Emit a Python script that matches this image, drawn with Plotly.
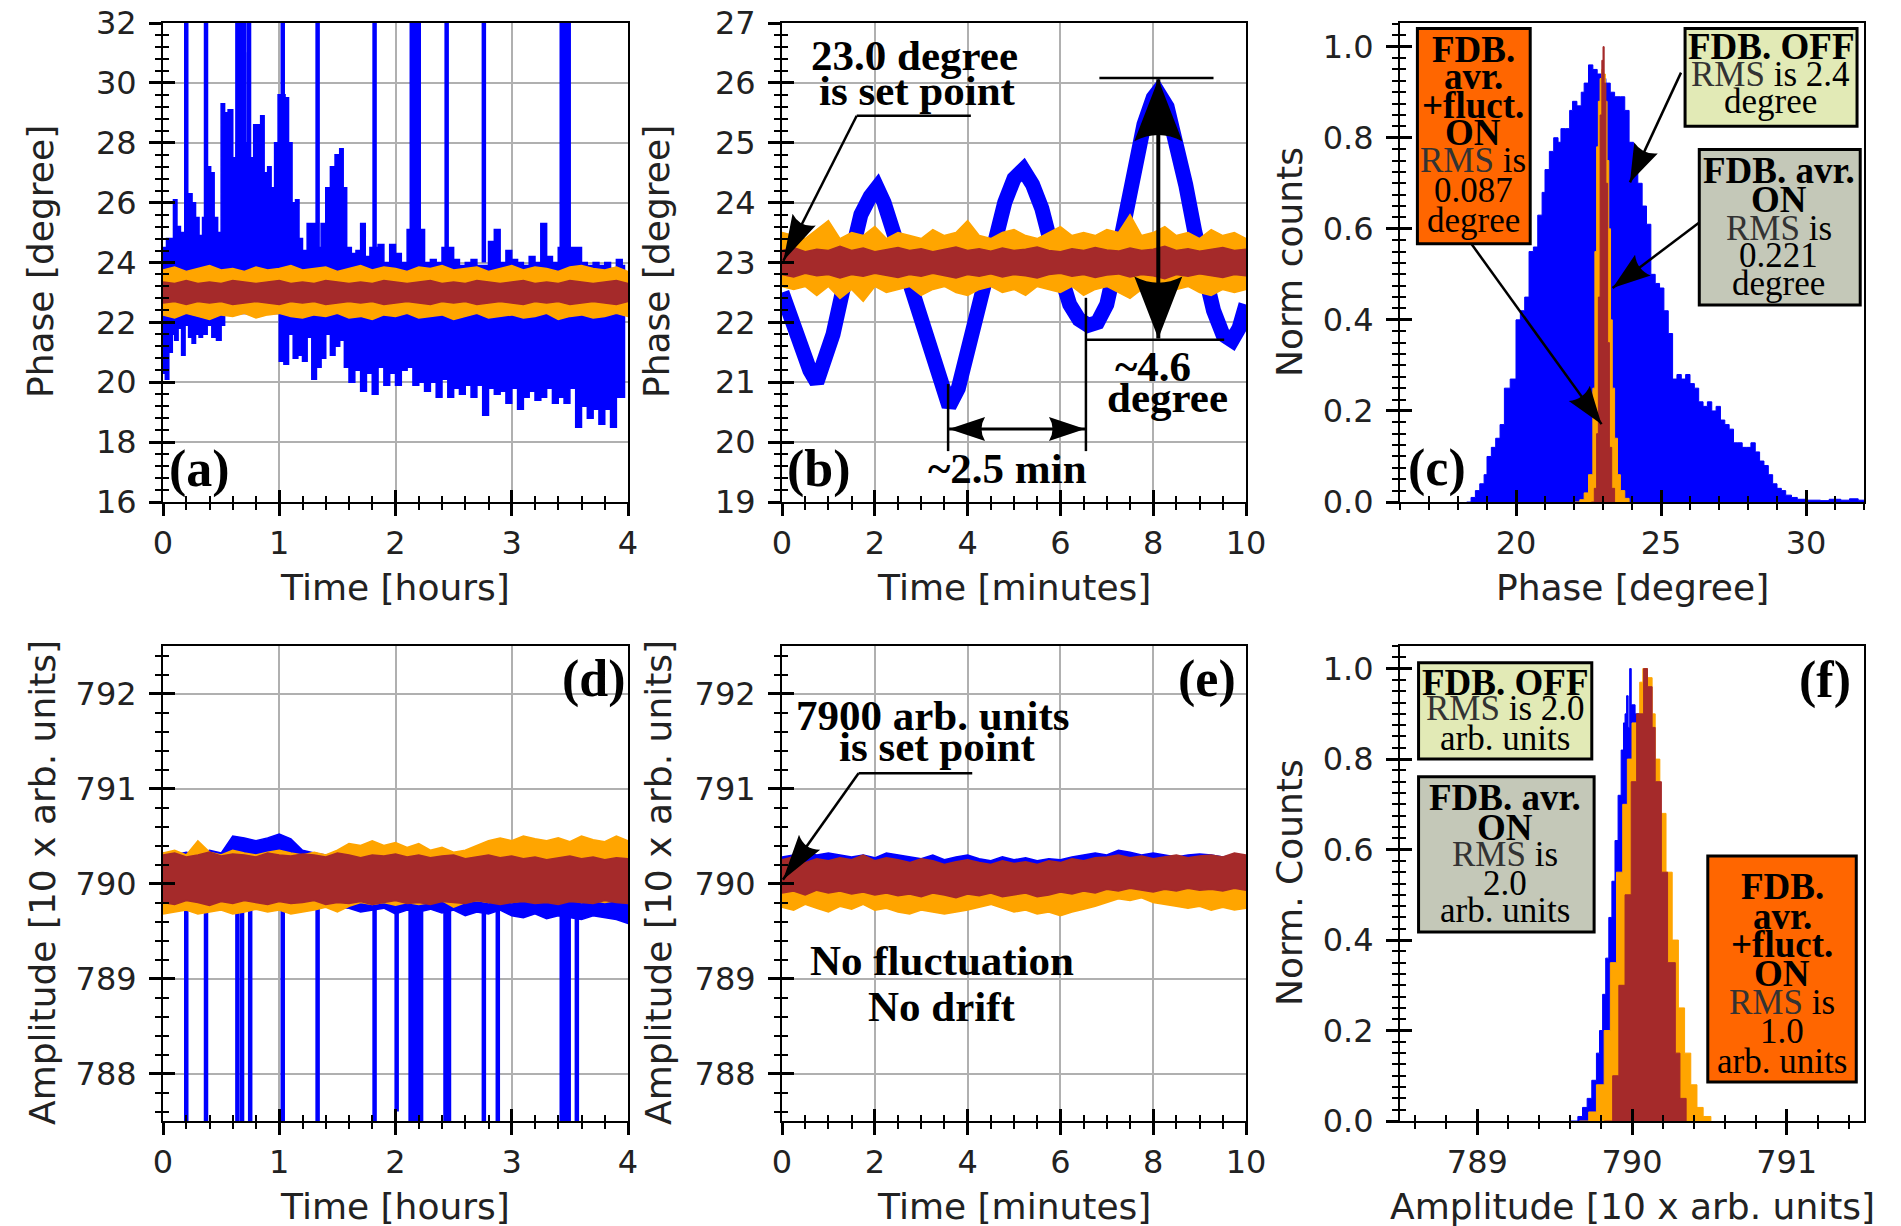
import math
import plotly.graph_objects as go

W, H = 1901, 1226
BLUE = '#0000ff'
ORANGE = '#ffa500'
BROWN = '#a52a2a'
BOX_ORANGE = '#ff6600'
BOX_GREEN = '#e2eab6'
BOX_GRAY = '#c4c8b8'

# ------------------------------------------------------------------ data
# (a) phase vs time [hours] : envelopes of the noisy traces
t_a = [0.0, 0.1, 0.2, 0.3, 0.4, 0.5, 0.6, 0.7, 0.8, 0.9, 1.0, 1.1, 1.2, 1.3, 1.4, 1.5, 1.6, 1.7, 1.8, 1.9, 2.0,
       2.1, 2.2, 2.3, 2.4, 2.5, 2.6, 2.7, 2.8, 2.9, 3.0, 3.1, 3.2, 3.3, 3.4, 3.5, 3.6, 3.7, 3.8, 3.9, 4.0]
orange_a_up = [23.75, 23.85, 23.7, 23.8, 23.9, 23.75, 23.8, 23.7, 23.85, 23.75, 23.8, 23.9, 23.75, 23.8, 23.85, 23.7,
               23.8, 23.9, 23.75, 23.85, 23.8, 23.7, 23.85, 23.8, 23.9, 23.75, 23.8, 23.85, 23.7, 23.8, 23.9, 23.75,
               23.85, 23.8, 23.7, 23.85, 23.9, 23.8, 23.75, 23.85, 23.7]
orange_a_lo = [22.25, 22.15, 22.3, 22.2, 22.1, 22.25, 22.2, 22.3, 22.15, 22.25, 22.3, 22.2, 22.15, 22.25, 22.2, 22.3,
               22.15, 22.2, 22.1, 22.25, 22.2, 22.3, 22.15, 22.2, 22.25, 22.1, 22.2, 22.3, 22.15, 22.2, 22.25, 22.15,
               22.2, 22.3, 22.1, 22.2, 22.25, 22.15, 22.2, 22.3, 22.2]
brown_a_up = [23.35, 23.3, 23.4, 23.3, 23.35, 23.3, 23.4, 23.35, 23.3, 23.35, 23.4, 23.3, 23.35, 23.3, 23.4, 23.35,
              23.3, 23.35, 23.3, 23.4, 23.35, 23.3, 23.35, 23.4, 23.3, 23.35, 23.3, 23.4, 23.35, 23.3, 23.35, 23.4,
              23.3, 23.35, 23.3, 23.4, 23.35, 23.3, 23.35, 23.4, 23.3]
brown_a_lo = [22.65, 22.7, 22.6, 22.7, 22.65, 22.7, 22.6, 22.65, 22.7, 22.65, 22.6, 22.7, 22.65, 22.7, 22.6, 22.65,
              22.7, 22.65, 22.7, 22.6, 22.65, 22.7, 22.65, 22.6, 22.7, 22.65, 22.7, 22.6, 22.65, 22.7, 22.65, 22.6,
              22.7, 22.65, 22.7, 22.6, 22.65, 22.7, 22.65, 22.6, 22.7]
t_blue_a_up = [0.0, 0.03, 0.06, 0.09, 0.12, 0.15, 0.18, 0.22, 0.25, 0.28, 0.31, 0.34, 0.38, 0.41, 0.44, 0.47, 0.5,
               0.53, 0.56, 0.6, 0.63, 0.67, 0.71, 0.75, 0.78, 0.81, 0.84, 0.87, 0.9, 0.93, 0.96, 0.99, 1.02, 1.05,
               1.08, 1.11, 1.14, 1.17, 1.2, 1.24, 1.28, 1.32, 1.36, 1.4, 1.44, 1.48, 1.52, 1.55, 1.58, 1.62, 1.66,
               1.7, 1.74, 1.78, 1.85, 1.9, 1.95, 2.0, 2.05, 2.1, 2.25, 2.3, 2.35, 2.4, 2.5, 2.55, 2.6, 2.65, 2.7,
               2.8, 2.85, 2.9, 2.95, 3.0, 3.05, 3.1, 3.15, 3.2, 3.25, 3.3, 3.35, 3.4, 3.55, 3.6, 3.65, 3.7, 3.75,
               3.8, 3.85, 3.9, 3.95, 3.97]
blue_a_up = [24.5, 24.8, 24.8, 26.1, 25.2, 25.0, 24.9, 26.3, 26.0, 25.5, 24.9, 25.5, 27.2, 27.0, 25.5, 25.0, 29.3,
             29.0, 29.1, 27.5, 28.0, 31.0, 28.0, 27.5, 28.6, 28.6, 28.9, 27.0, 27.2, 26.5, 28.0, 29.6, 29.6, 29.5,
             28.0, 26.0, 26.1, 24.8, 24.4, 25.3, 25.3, 24.5, 25.3, 26.5, 27.2, 27.6, 27.8, 26.5, 24.5, 24.3, 24.4,
             25.3, 24.2, 24.5, 24.6, 24.0, 24.6, 24.3, 24.0, 25.1, 24.0, 24.1, 24.0, 24.5, 24.1, 23.9, 24.0, 24.1,
             23.9, 24.7, 25.1, 24.0, 24.4, 24.1, 24.0, 23.9, 24.2, 24.0, 25.3, 24.2, 24.0, 24.5, 24.5, 24.0, 23.9,
             24.0, 23.9, 24.0, 23.8, 24.1, 23.9, 23.9]
t_blue_a_lo = [0.0, 0.02, 0.05, 0.08, 0.1, 0.13, 0.16, 0.19, 0.22, 0.25, 0.28, 0.31, 0.34, 0.38, 0.42, 0.46, 0.5,
               0.53, 0.56, 0.6, 1.0, 1.04, 1.08, 1.12, 1.16, 1.2, 1.24, 1.28, 1.32, 1.36, 1.4, 1.44, 1.48, 1.52,
               1.56, 1.6, 1.65, 1.7, 1.75, 1.8, 1.85, 1.9, 1.95, 2.0, 2.05, 2.1, 2.15, 2.2, 2.25, 2.3, 2.35, 2.4,
               2.45, 2.5, 2.55, 2.6, 2.65, 2.7, 2.75, 2.8, 2.85, 2.9, 2.95, 3.0, 3.05, 3.1, 3.15, 3.2, 3.25, 3.3,
               3.35, 3.4, 3.45, 3.5, 3.55, 3.6, 3.65, 3.7, 3.75, 3.8, 3.85, 3.9, 3.95, 3.97]
blue_a_lo = [21.5, 20.3, 20.1, 21.0, 21.6, 21.4, 21.8, 20.9, 21.9, 21.5, 21.3, 21.6, 21.5, 21.6, 21.9, 21.5, 21.4,
             21.9, 22.3, 22.3, 22.3, 20.7, 20.6, 21.6, 20.8, 20.9, 20.7, 21.5, 20.1, 20.5, 20.8, 21.6, 20.9, 21.2,
             21.4, 20.5, 20.0, 20.4, 19.7, 20.3, 19.6, 20.5, 19.9, 20.3, 19.9, 20.4, 20.5, 19.9, 20.0, 19.7, 20.0,
             19.5, 20.1, 19.5, 19.8, 19.6, 19.9, 19.5, 19.9, 18.9, 19.8, 19.6, 19.7, 19.3, 19.8, 19.1, 19.5, 19.7,
             19.4, 19.5, 19.8, 19.3, 19.5, 19.3, 19.8, 18.5, 19.2, 18.8, 19.1, 18.6, 19.1, 18.5, 19.5, 19.5]
spike_t_a = [0.2, 0.37, 0.64, 0.67, 0.7, 0.74, 1.03, 1.33, 1.82, 2.14, 2.17, 2.2, 2.44, 2.76, 3.43, 3.46, 3.49]

# (b) phase vs time [minutes]
t_b = [0.0, 0.25, 0.5, 0.75, 1.0, 1.25, 1.5, 1.75, 2.0, 2.25, 2.5, 2.75, 3.0, 3.25, 3.5, 3.75, 4.0, 4.25, 4.5,
       4.75, 5.0, 5.25, 5.5, 5.75, 6.0, 6.25, 6.5, 6.75, 7.0, 7.25, 7.5, 7.75, 8.0, 8.25, 8.5, 8.75, 9.0, 9.25,
       9.5, 9.75, 10.0]
orange_b_up = [23.5, 23.45, 23.4, 23.55, 23.7, 23.4, 23.5, 23.45, 23.6, 23.4, 23.5, 23.45, 23.4, 23.55, 23.45, 23.5,
               23.7, 23.45, 23.4, 23.5, 23.55, 23.45, 23.4, 23.5, 23.6, 23.45, 23.5, 23.45, 23.55, 23.5, 23.8, 23.45,
               23.5, 23.6, 23.45, 23.5, 23.4, 23.55, 23.45, 23.5, 23.4]
orange_b_lo = [22.6, 22.55, 22.6, 22.45, 22.6, 22.4, 22.55, 22.35, 22.6, 22.5, 22.55, 22.6, 22.45, 22.55, 22.6, 22.5,
               22.45, 22.55, 22.6, 22.5, 22.55, 22.45, 22.6, 22.55, 22.5, 22.6, 22.45, 22.55, 22.6, 22.5, 22.4, 22.55,
               22.5, 22.3, 22.55, 22.6, 22.5, 22.45, 22.55, 22.5, 22.55]
brown_b_up = [23.2, 23.25, 23.18, 23.22, 23.2, 23.27, 23.2, 23.24, 23.18, 23.22, 23.25, 23.2, 23.23, 23.18, 23.22,
              23.26, 23.2, 23.23, 23.19, 23.24, 23.2, 23.22, 23.26, 23.2, 23.18, 23.23, 23.2, 23.25, 23.21, 23.19,
              23.24, 23.2, 23.22, 23.27, 23.2, 23.23, 23.19, 23.22, 23.25, 23.2, 23.22]
brown_b_lo = [22.8, 22.76, 22.82, 22.78, 22.8, 22.74, 22.8, 22.77, 22.82, 22.78, 22.75, 22.8, 22.77, 22.82, 22.78,
              22.74, 22.8, 22.77, 22.81, 22.76, 22.8, 22.78, 22.74, 22.8, 22.82, 22.77, 22.8, 22.75, 22.79, 22.81,
              22.76, 22.8, 22.78, 22.73, 22.8, 22.77, 22.81, 22.78, 22.75, 22.8, 22.78]
t_blue_b = [0.0, 0.2, 0.4, 0.6, 0.75, 0.9, 1.1, 1.3, 1.5, 1.7, 1.9, 2.05, 2.2, 2.4, 2.6, 2.8, 3.0, 3.2, 3.4, 3.6,
            3.8, 4.0, 4.2, 4.4, 4.6, 4.8, 5.0, 5.2, 5.4, 5.6, 5.8, 6.0, 6.2, 6.4, 6.6, 6.8, 7.0, 7.2, 7.4, 7.6,
            7.8, 8.0, 8.1, 8.3, 8.5, 8.7, 8.9, 9.1, 9.3, 9.5, 9.7, 9.85, 10.0]
blue_b = [22.5, 22.0, 21.6, 21.2, 21.0, 21.3, 21.8, 22.5, 23.2, 23.8, 24.1, 24.25, 24.0, 23.5, 23.0, 22.5, 22.0,
          21.5, 21.0, 20.6, 20.9, 21.5, 22.2, 22.9, 23.5, 24.0, 24.4, 24.55, 24.3, 23.9, 23.3, 22.8, 22.3, 22.05,
          21.95, 22.0, 22.3, 23.0, 23.8, 24.6, 25.3, 25.75, 25.85, 25.6, 25.0, 24.3, 23.5, 22.8, 22.2, 21.8, 21.7,
          21.9, 22.3]

# (c) phase histograms (bin left edge, normalised counts)
ph_blue_c = [18.3, 18.45, 18.6, 18.75, 18.9, 19.0, 19.15, 19.3, 19.45, 19.6, 19.8, 20.0, 20.15, 20.3, 20.45, 20.6,
             20.75, 20.9, 21.0, 21.15, 21.3, 21.45, 21.55, 21.7, 21.85, 21.95, 22.1, 22.25, 22.35, 22.5, 22.65,
             22.8, 22.95, 23.1, 23.25, 23.4, 23.6, 23.75, 23.9, 24.05, 24.2, 24.35, 24.5, 24.65, 24.8, 24.95, 25.1,
             25.25, 25.4, 25.55, 25.7, 25.85, 26.0, 26.15, 26.3, 26.45, 26.6, 26.75, 26.9, 27.05, 27.2, 27.35,
             27.5, 27.65, 27.8, 27.95, 28.1, 28.25, 28.4, 28.55, 28.7, 28.85, 29.0, 29.15, 29.3, 29.5, 29.7, 30.0,
             30.5, 30.8, 31.2, 31.5, 31.8, 32.0]
cnt_blue_c = [0.0, 0.01, 0.025, 0.04, 0.06, 0.1, 0.12, 0.14, 0.17, 0.25, 0.27, 0.40, 0.42, 0.45, 0.55, 0.56, 0.63,
              0.68, 0.73, 0.77, 0.80, 0.79, 0.82, 0.82, 0.86, 0.88, 0.87, 0.9, 0.92, 0.96, 0.95, 0.94, 0.93, 0.92,
              0.90, 0.89, 0.89, 0.86, 0.79, 0.75, 0.70, 0.65, 0.61, 0.50, 0.48, 0.47, 0.42, 0.37, 0.27, 0.28, 0.27,
              0.28, 0.26, 0.25, 0.22, 0.21, 0.22, 0.2, 0.21, 0.18, 0.17, 0.16, 0.13, 0.13, 0.12, 0.12, 0.13, 0.11,
              0.09, 0.08, 0.06, 0.04, 0.03, 0.025, 0.015, 0.01, 0.006, 0.004, 0.003, 0.006, 0.004, 0.007, 0.004,
              0.004]
ph_orange_c = [22.0, 22.2, 22.35, 22.5, 22.65, 22.72, 22.78, 22.84, 22.9, 22.96, 23.02, 23.08, 23.14, 23.2, 23.26,
               23.32, 23.4, 23.5, 23.6, 23.75, 23.9]
cnt_orange_c = [0.0, 0.005, 0.02, 0.06, 0.25, 0.55, 0.78, 0.88, 0.93, 0.95, 0.94, 0.88, 0.75, 0.6, 0.4, 0.25, 0.14,
                0.06, 0.025, 0.008, 0.0]
ph_brown_c = [22.6, 22.7, 22.78, 22.84, 22.9, 22.96, 23.0, 23.04, 23.1, 23.16, 23.22, 23.3, 23.4]
cnt_brown_c = [0.0, 0.03, 0.15, 0.45, 0.85, 0.97, 1.0, 0.92, 0.7, 0.35, 0.12, 0.03, 0.0]

# (d) amplitude vs time [hours]
t_d = t_a
brown_d_up = [790.3, 790.32, 790.28, 790.3, 790.33, 790.29, 790.31, 790.3, 790.28, 790.32, 790.3, 790.29, 790.31,
              790.3, 790.28, 790.32, 790.3, 790.27, 790.3, 790.29, 790.31, 790.28, 790.3, 790.27, 790.29, 790.3,
              790.26, 790.28, 790.3, 790.27, 790.29, 790.26, 790.28, 790.25, 790.27, 790.29, 790.26, 790.28, 790.25,
              790.27, 790.26]
brown_d_lo = [789.8, 789.78, 789.82, 789.8, 789.77, 789.81, 789.79, 789.82, 789.8, 789.78, 789.81, 789.79, 789.8,
              789.82, 789.78, 789.8, 789.79, 789.81, 789.78, 789.8, 789.82, 789.79, 789.8, 789.78, 789.81, 789.8,
              789.79, 789.82, 789.8, 789.78, 789.8, 789.81, 789.79, 789.8, 789.78, 789.81, 789.8, 789.79, 789.82,
              789.8, 789.79]
orange_d_up = [790.32, 790.35, 790.3, 790.45, 790.33, 790.3, 790.35, 790.32, 790.3, 790.33, 790.35, 790.32, 790.3,
               790.33, 790.3, 790.35, 790.42, 790.4, 790.45, 790.4, 790.43, 790.38, 790.42, 790.35, 790.38, 790.33,
               790.35, 790.4, 790.45, 790.48, 790.45, 790.5, 790.47, 790.45, 790.48, 790.44, 790.5, 790.46, 790.44,
               790.5, 790.45]
orange_d_lo = [789.68, 789.7, 789.72, 789.68, 789.7, 789.72, 789.68, 789.7, 789.73, 789.7, 789.72, 789.68, 789.7,
               789.72, 789.75, 789.7, 789.76, 789.8, 789.78, 789.8, 789.77, 789.8, 789.78, 789.8, 789.82, 789.75,
               789.8, 789.82, 789.8, 789.82, 789.8, 789.82, 789.8, 789.82, 789.8, 789.83, 789.8, 789.82, 789.8,
               789.82, 789.8]
blue_d_up = [790.32, 790.3, 790.33, 790.3, 790.35, 790.32, 790.5, 790.48, 790.45, 790.48, 790.52, 790.47, 790.35,
             790.32, 790.3, 790.32, 790.3, 790.28, 790.3, 790.28, 790.3, 790.28, 790.3, 790.28, 790.3, 790.28, 790.3,
             790.28, 790.3, 790.28, 790.3, 790.28, 790.3, 790.28, 790.3, 790.28, 790.3, 790.28, 790.3, 790.28,
             790.28]
blue_d_lo = [789.75, 789.75, 789.78, 789.75, 789.76, 789.75, 789.76, 789.75, 789.78, 789.76, 789.75, 789.76, 789.78,
             789.76, 789.78, 789.75, 789.74, 789.7, 789.72, 789.74, 789.68, 789.72, 789.7, 789.73, 789.69, 789.72,
             789.66, 789.7, 789.68, 789.72, 789.66, 789.64, 789.68, 789.63, 789.66, 789.64, 789.62, 789.66, 789.64,
             789.62, 789.58]
spike_t_d = [0.2, 0.37, 0.64, 0.68, 0.75, 1.03, 1.33, 1.82, 2.01, 2.13, 2.16, 2.19, 2.22, 2.43, 2.46, 2.76, 2.88,
             3.43, 3.46, 3.49, 3.56]
spike_bottom_d = [787.3, 787.3, 787.3, 787.3, 787.3, 787.3, 787.3, 787.3, 787.6, 787.3, 787.3, 787.3, 787.3, 787.3,
                  787.3, 787.3, 787.3, 787.3, 787.3, 787.3, 787.3]

# (e) amplitude vs time [minutes]
t_e = t_b
brown_e_up = [790.25, 790.28, 790.22, 790.26, 790.24, 790.27, 790.25, 790.3, 790.24, 790.27, 790.25, 790.22, 790.26,
              790.24, 790.2, 790.23, 790.25, 790.22, 790.2, 790.24, 790.21, 790.23, 790.2, 790.24, 790.22, 790.26,
              790.24, 790.27, 790.28, 790.3, 790.27, 790.29, 790.26, 790.28, 790.3, 790.27, 790.29, 790.3, 790.28,
              790.32, 790.3]
brown_e_lo = [789.9, 789.92, 789.88, 789.93, 789.9, 789.92, 789.89, 789.91, 789.88, 789.9, 789.87, 789.89, 789.86,
              789.9, 789.88, 789.85, 789.89, 789.87, 789.9, 789.86, 789.88, 789.9, 789.86, 789.88, 789.91, 789.89,
              789.92, 789.9, 789.94, 789.92, 789.95, 789.93, 789.91, 789.94, 789.92, 789.95, 789.93, 789.94, 789.92,
              789.95, 789.93]
orange_e_up = [790.1, 790.12, 790.08, 790.1, 790.05, 790.1, 790.08, 790.12, 790.06, 790.1, 790.05, 790.08, 790.04,
               790.06, 790.03, 790.06, 790.08, 790.05, 790.1, 790.06, 790.04, 790.07, 790.03, 790.05, 790.02, 790.06,
               790.08, 790.1, 790.14, 790.16, 790.15, 790.17, 790.12, 790.1, 790.08, 790.1, 790.12, 790.08, 790.1,
               790.07, 790.1]
orange_e_lo = [789.75, 789.72, 789.78, 789.74, 789.7, 789.76, 789.73, 789.78, 789.72, 789.74, 789.7, 789.68, 789.72,
               789.7, 789.68, 789.7, 789.72, 789.75, 789.78, 789.74, 789.7, 789.72, 789.68, 789.7, 789.66, 789.7,
               789.73, 789.76, 789.8, 789.84, 789.82, 789.85, 789.8, 789.78, 789.76, 789.74, 789.76, 789.72, 789.75,
               789.72, 789.74]
blue_e_up = [790.28, 790.3, 790.33, 790.3, 790.32, 790.3, 790.28, 790.3, 790.27, 790.32, 790.3, 790.28, 790.26, 790.3,
             790.25, 790.28, 790.3, 790.26, 790.24, 790.28, 790.25, 790.27, 790.24, 790.26, 790.25, 790.28, 790.3,
             790.32, 790.3, 790.35, 790.33, 790.3, 790.32, 790.3, 790.28, 790.3, 790.31, 790.3, 790.28, 790.3, 790.29]
blue_e_lo = [789.9, 789.92, 789.88, 789.85, 789.9, 789.92, 789.9, 789.93, 789.9, 789.92, 789.9, 789.88, 789.92,
             789.9, 789.88, 789.9, 789.92, 789.9, 789.88, 789.92, 789.9, 789.94, 789.88, 789.9, 789.92, 789.95,
             789.93, 789.95, 789.96, 789.94, 789.96, 789.95, 789.93, 789.95, 789.96, 789.94, 789.95, 789.93, 789.95,
             789.94, 789.95]

# (f) amplitude histograms
amp_blue_f = [789.6, 789.65, 789.68, 789.71, 789.74, 789.77, 789.79, 789.81, 789.83, 789.85, 789.87, 789.89, 789.91,
              789.93, 789.945, 789.955, 789.965, 789.975, 789.985, 789.995, 790.02, 790.05, 790.08, 790.12, 790.16,
              790.2, 790.25, 790.3, 790.35]
cnt_blue_f = [0.0, 0.01, 0.03, 0.05, 0.09, 0.15, 0.2, 0.28, 0.36, 0.45, 0.53, 0.62, 0.72, 0.82, 0.88, 0.9, 0.94,
              0.87, 1.0, 0.92, 0.9, 0.85, 0.75, 0.6, 0.45, 0.3, 0.15, 0.05, 0.0]
amp_orange_f = [789.66, 789.72, 789.77, 789.82, 789.86, 789.9, 789.94, 789.97, 790.0, 790.05, 790.07, 790.1, 790.13,
                790.15, 790.18, 790.22, 790.26, 790.3, 790.34, 790.38, 790.42, 790.46, 790.51]
cnt_orange_f = [0.0, 0.02, 0.08, 0.2, 0.35, 0.55, 0.7, 0.8, 0.88, 0.97, 1.0, 0.98, 0.9, 0.8, 0.68, 0.55, 0.4, 0.25,
                0.15, 0.08, 0.03, 0.01, 0.0]
amp_brown_f = [789.82, 789.875, 789.915, 789.955, 789.995, 790.03, 790.075, 790.1, 790.13, 790.15, 790.19, 790.23,
               790.28, 790.31, 790.35]
cnt_brown_f = [0.0, 0.1, 0.3, 0.5, 0.75, 0.9, 1.0, 0.96, 0.87, 0.75, 0.55, 0.35, 0.15, 0.05, 0.0]

# ------------------------------------------------------------------ figure
fig = go.Figure()
COLS = [(163, 628), (782, 1246), (1400, 1864)]
ROWS = [(23, 502), (646, 1121)]


def xn(i):
    return 'x' if i == 1 else f'x{i}'


def yn(i):
    return 'y' if i == 1 else f'y{i}'


def xk(i):
    return 'xaxis' if i == 1 else f'xaxis{i}'


def yk(i):
    return 'yaxis' if i == 1 else f'yaxis{i}'


TICKFONT = dict(family='DejaVu Sans', size=32, color='#222222')

# panel, row, col, xrange, xdtick, xminor, yrange, ydtick, yminor, grid, yfmt
PANELS = [
    (1, 0, 0, [0, 4], 1, 0.2, [16, 32], 2, 0.4, True, None),
    (2, 0, 1, [0, 10], 2, 0.5, [19, 27], 1, 0.2, True, None),
    (3, 0, 2, [16, 32], 5, 1, [0, 1.052], 0.2, 0.025, False, '.1f'),
    (4, 1, 0, [0, 4], 1, 0.2, [787.5, 792.5], 1, 0.2, True, None),
    (5, 1, 1, [0, 10], 2, 0.5, [787.5, 792.5], 1, 0.2, True, None),
    (6, 1, 2, [788.5, 791.5], 1, 0.2, [0, 1.05], 0.2, 0.025, False, '.1f'),
]
SCALE = {}  # pixels per data unit, per panel

layout = dict(width=W, height=H, margin=dict(l=0, r=0, t=0, b=0, autoexpand=False), paper_bgcolor='white',
              plot_bgcolor='white', showlegend=False)

for (i, r, c, xr, xd, xm, yr, yd, ym, grid, yfmt) in PANELS:
    xdom = [COLS[c][0] / W, COLS[c][1] / W]
    ydom = [1 - ROWS[r][1] / H, 1 - ROWS[r][0] / H]
    SCALE[i] = ((COLS[c][1] - COLS[c][0]) / (xr[1] - xr[0]), (ROWS[r][1] - ROWS[r][0]) / (yr[1] - yr[0]))
    common = dict(showline=True, mirror=True, linecolor='black', linewidth=2,
                  ticks='outside', ticklen=12, tickwidth=2.5, tickcolor='black',
                  gridcolor='#b0b0b0', gridwidth=1.5, zeroline=False, tickfont=TICKFONT,
                  fixedrange=True, tick0=0, automargin=False)
    layout[xk(i)] = dict(domain=xdom, anchor=yn(i), range=xr, dtick=xd, showgrid=grid,
                         minor=dict(dtick=xm, tick0=0, ticks='outside', ticklen=6, tickwidth=2,
                                    tickcolor='black', showgrid=False), **common)
    ya = dict(domain=ydom, anchor=xn(i), range=yr, dtick=yd, showgrid=grid, ticklabelstandoff=6,
              minor=dict(dtick=ym, tick0=0, ticks='outside', ticklen=6, tickwidth=2,
                         tickcolor='black', showgrid=False), **common)
    if yfmt:
        ya['tickformat'] = yfmt
    layout[yk(i)] = ya
    # overlay axes carrying the inner half of each tick
    j = i + 6
    inner = dict(ticks='inside', ticklen=12, tickwidth=2.5, tickcolor='black', showticklabels=False,
                 showgrid=False, showline=False, zeroline=False, fixedrange=True, tick0=0, automargin=False)
    layout[xk(j)] = dict(overlaying=xn(i), anchor=yn(j), range=xr, dtick=xd,
                         minor=dict(dtick=xm, tick0=0, ticks='inside', ticklen=6, tickwidth=2,
                                    tickcolor='black', showgrid=False), **inner)
    layout[yk(j)] = dict(overlaying=yn(i), anchor=xn(j), range=yr, dtick=yd,
                         minor=dict(dtick=ym, tick0=0, ticks='inside', ticklen=6, tickwidth=2,
                                    tickcolor='black', showgrid=False), **inner)
    fig.add_trace(go.Scatter(x=[None], y=[None], xaxis=xn(j), yaxis=yn(j), mode='lines',
                             showlegend=False, hoverinfo='skip'))


def band(i, xu, yu, xl, yl, color, shape='linear'):
    fig.add_trace(go.Scatter(x=list(xu) + list(xl)[::-1], y=list(yu) + list(yl)[::-1], mode='lines',
                             fill='toself', fillcolor=color, line=dict(color=color, width=1.5, shape=shape),
                             xaxis=xn(i), yaxis=yn(i), showlegend=False, hoverinfo='skip'))


def spikes(i, ts, y0s, y1s, color, w):
    xs, ys = [], []
    for t, a, b in zip(ts, y0s, y1s):
        xs += [t, t, None]
        ys += [a, b, None]
    fig.add_trace(go.Scatter(x=xs, y=ys, mode='lines', line=dict(color=color, width=w),
                             xaxis=xn(i), yaxis=yn(i), showlegend=False, hoverinfo='skip'))


def hist(i, xs, ys, color):
    fig.add_trace(go.Scatter(x=xs, y=ys, mode='lines', line=dict(color=color, width=1, shape='hv'),
                             fill='tozeroy', fillcolor=color, xaxis=xn(i), yaxis=yn(i),
                             showlegend=False, hoverinfo='skip'))


# (a)
band(1, t_blue_a_up, blue_a_up, t_blue_a_lo, blue_a_lo, BLUE, 'hv')
spikes(1, spike_t_a, [24.0] * len(spike_t_a), [33.0] * len(spike_t_a), BLUE, 4.5)
band(1, t_a, orange_a_up, t_a, orange_a_lo, ORANGE)
band(1, t_a, brown_a_up, t_a, brown_a_lo, BROWN)
# (b)
fig.add_trace(go.Scatter(x=t_blue_b, y=blue_b, mode='lines', line=dict(color=BLUE, width=15),
                         xaxis='x2', yaxis='y2', showlegend=False, hoverinfo='skip'))
band(2, t_b, orange_b_up, t_b, orange_b_lo, ORANGE)
band(2, t_b, brown_b_up, t_b, brown_b_lo, BROWN)
# (c)
hist(3, ph_blue_c, cnt_blue_c, BLUE)
hist(3, ph_orange_c, cnt_orange_c, ORANGE)
hist(3, ph_brown_c, cnt_brown_c, BROWN)
# (d)
band(4, t_d, blue_d_up, t_d, blue_d_lo, BLUE)
spikes(4, spike_t_d, [789.8] * len(spike_t_d), spike_bottom_d, BLUE, 4.5)
band(4, t_d, orange_d_up, t_d, orange_d_lo, ORANGE)
band(4, t_d, brown_d_up, t_d, brown_d_lo, BROWN)
# (e)
band(5, t_e, blue_e_up, t_e, blue_e_lo, BLUE)
band(5, t_e, orange_e_up, t_e, orange_e_lo, ORANGE)
band(5, t_e, brown_e_up, t_e, brown_e_lo, BROWN)
# (f)
hist(6, amp_blue_f, cnt_blue_f, BLUE)
hist(6, amp_orange_f, cnt_orange_f, ORANGE)
hist(6, amp_brown_f, cnt_brown_f, BROWN)

# ------------------------------------------------------------------ annotations
ANN = []
SHAPES = []
SERIF = 'Liberation Serif'


def txt(i, x, y, s, size=43, bold=True, xanchor='center', color='black'):
    if bold:
        s = f'<b>{s}</b>'
    ANN.append(dict(xref=xn(i), yref=yn(i), x=x, y=y, text=s, showarrow=False,
                    font=dict(family=SERIF, size=size, color=color), xanchor=xanchor, yanchor='middle'))


def seg(i, x0, y0, x1, y1, w=2.5):
    SHAPES.append(dict(type='line', xref=xn(i), yref=yn(i), x0=x0, y0=y0, x1=x1, y1=y1,
                       line=dict(color='black', width=w), layer='above'))


def head(i, x, y, fx, fy, L, Wd):
    """filled arrow head with its tip at (x, y), pointing away from (fx, fy); sizes in pixels"""
    sx, sy = SCALE[i]
    dx, dy = (x - fx) * sx, (y - fy) * sy
    n = math.hypot(dx, dy)
    ux, uy = dx / n, dy / n
    px_, py_ = -uy, ux
    b1 = (-L * ux + Wd / 2 * px_, -L * uy + Wd / 2 * py_)
    b2 = (-L * ux - Wd / 2 * px_, -L * uy - Wd / 2 * py_)
    q = (-0.8 * L * ux, -0.8 * L * uy)
    path = (f'M0,0 L{b1[0]:.2f},{b1[1]:.2f} Q{q[0]:.2f},{q[1]:.2f} {b2[0]:.2f},{b2[1]:.2f} Z')
    SHAPES.append(dict(type='path', xref=xn(i), yref=yn(i), xsizemode='pixel', ysizemode='pixel',
                       xanchor=x, yanchor=y, path=path, fillcolor='black', line=dict(width=0),
                       layer='above'))


def arrow(i, x, y, ax, ay, L=40, Wd=26, w=2.5, double=False):
    seg(i, ax, ay, x, y, w)
    head(i, x, y, ax, ay, L, Wd)
    if double:
        head(i, ax, ay, x, y, L, Wd)


def box(i, x0, y0, x1, y1, color):
    SHAPES.append(dict(type='rect', xref=xn(i), yref=yn(i), x0=x0, y0=y0, x1=x1, y1=y1,
                       fillcolor=color, line=dict(color='black', width=3), layer='above'))


def paper_text(px, py, s, angle=0):
    ANN.append(dict(xref='paper', yref='paper', x=px / W, y=1 - py / H, text=s, showarrow=False,
                    textangle=angle, xanchor='center', yanchor='middle',
                    font=dict(family='DejaVu Sans', size=36, color='#222222')))


RMS = "<span style='font-weight:normal;color:#333333'>RMS</span>"

# axis titles
paper_text(395, 588, 'Time [hours]')
paper_text(1014, 588, 'Time [minutes]')
paper_text(1632, 588, 'Phase [degree]')
paper_text(395, 1206, 'Time [hours]')
paper_text(1014, 1206, 'Time [minutes]')
paper_text(1632, 1206, 'Amplitude [10 x arb. units]')
paper_text(40, 262, 'Phase [degree]', -90)
paper_text(656, 262, 'Phase [degree]', -90)
paper_text(1289, 262, 'Norm counts', -90)
paper_text(42, 883, 'Amplitude [10 x arb. units]', -90)
paper_text(658, 883, 'Amplitude [10 x arb. units]', -90)
paper_text(1289, 883, 'Norm. Counts', -90)

# panel labels
txt(1, 0.31, 17.1, '(a)', 52)
txt(2, 0.8, 19.55, '(b)', 52)
txt(3, 17.26, 0.074, '(c)', 52)
txt(4, 3.71, 792.15, '(d)', 52)
txt(5, 9.17, 792.15, '(e)', 52)
txt(6, 791.25, 0.974, '(f)', 52)

# (b) annotations
txt(2, 2.86, 26.46, '23.0 degree')
txt(2, 2.91, 25.87, 'is set point')
seg(2, 1.61, 25.45, 4.07, 25.45)
arrow(2, 0.03, 23.03, 1.61, 25.45, L=46, Wd=26)
seg(2, 6.84, 26.08, 9.30, 26.08)
seg(2, 6.57, 21.71, 9.53, 21.71)
arrow(2, 8.11, 26.06, 8.11, 21.73, L=62, Wd=48, w=4, double=True)
seg(2, 3.58, 20.97, 3.58, 19.85)
seg(2, 6.55, 22.41, 6.55, 19.85)
arrow(2, 6.53, 20.22, 3.6, 20.22, L=36, Wd=24, w=3, double=True)
txt(2, 4.87, 19.56, '~2.5 min')
txt(2, 8.0, 21.26, '~4.6')
txt(2, 8.3, 20.75, 'degree')

# (e) annotations
txt(5, 3.26, 791.77, '7900 arb. units')
txt(5, 3.35, 791.44, 'is set point')
seg(5, 1.65, 791.16, 4.10, 791.16)
arrow(5, 0.02, 790.04, 1.65, 791.16, L=46, Wd=26)
txt(5, 3.44, 789.19, 'No fluctuation')
txt(5, 3.44, 788.71, 'No drift')

# (c) boxes
box(3, 16.60, 0.567, 20.49, 1.04, BOX_ORANGE)
for yv, s, b in [(0.993, 'FDB.', True), (0.934, 'avr.', True), (0.871, '+fluct.', True), (0.812, 'ON', True),
                 (0.749, RMS + ' is', False), (0.685, '0.087', False), (0.618, 'degree', False)]:
    txt(3, 18.53, yv, s, 37 if b else 35, b)
box(3, 25.83, 0.825, 31.76, 1.04, BOX_GREEN)
for yv, s, b in [(1.0, 'FDB. OFF', True), (0.938, RMS + ' is 2.4', False), (0.879, 'degree', False)]:
    txt(3, 28.78, yv, s, 37 if b else 35, b)
box(3, 26.32, 0.4325, 31.87, 0.774, BOX_GRAY)
for yv, s, b in [(0.728, 'FDB. avr.', True), (0.664, 'ON', True), (0.601, RMS + ' is', False),
                 (0.542, '0.221', False), (0.479, 'degree', False)]:
    txt(3, 29.06, yv, s, 37 if b else 35, b)
arrow(3, 23.93, 0.702, 25.69, 0.943, L=38, Wd=26)
arrow(3, 23.33, 0.47, 26.32, 0.614, L=38, Wd=26)
arrow(3, 22.95, 0.171, 18.46, 0.567, L=38, Wd=26)

# (f) boxes
box(6, 788.62, 0.80, 789.74, 1.013, BOX_GREEN)
for yv, s, b in [(0.969, 'FDB. OFF', True), (0.912, RMS + ' is 2.0', False), (0.846, 'arb. units', False)]:
    txt(6, 789.18, yv, s, 37 if b else 35, b)
box(6, 788.62, 0.418, 789.755, 0.761, BOX_GRAY)
for yv, s, b in [(0.715, 'FDB. avr.', True), (0.649, 'ON', True), (0.590, RMS + ' is', False),
                 (0.526, '2.0', False), (0.465, 'arb. units', False)]:
    txt(6, 789.18, yv, s, 37 if b else 35, b)
box(6, 790.49, 0.086, 791.45, 0.586, BOX_ORANGE)
for yv, s, b in [(0.518, 'FDB.', True), (0.452, 'avr.', True), (0.39, '+fluct.', True), (0.325, 'ON', True),
                 (0.263, RMS + ' is', False), (0.197, '1.0', False), (0.132, 'arb. units', False)]:
    txt(6, 790.97, yv, s, 37 if b else 35, b)

layout['annotations'] = ANN
layout['shapes'] = SHAPES
fig.update_layout(**layout)
# the page itself should add no offset around the 1901x1226 figure
fig.write_html('out.html', config={'displayModeBar': False},
               post_script=["document.body.style.margin='0px';document.body.style.overflow='hidden';"])
